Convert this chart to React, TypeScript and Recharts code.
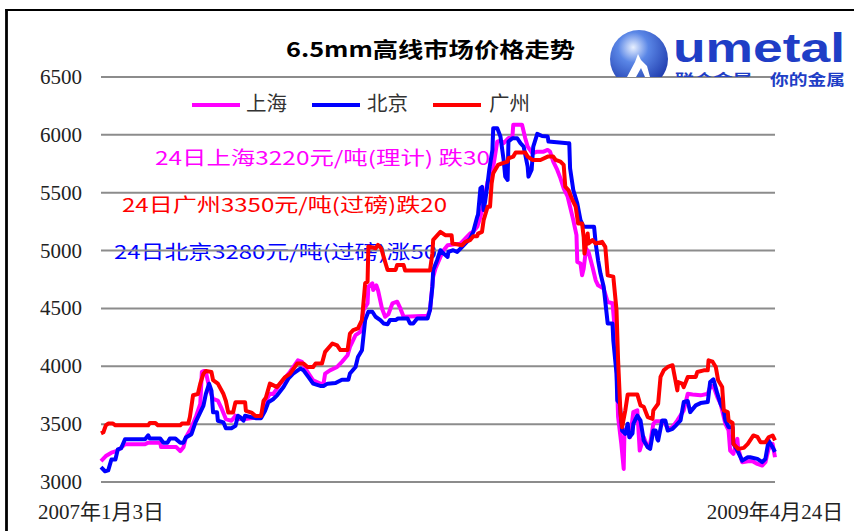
import React from 'react';
import { LineChart, Line, XAxis, YAxis, CartesianGrid } from 'recharts';

// x values: days since 2007-01-03
const seriesNames = ['上海', '北京', '广州'];
const seriesColors = ['#ff00ff', '#0000ff', '#ff0000'];
const yTicks = [3000, 3500, 4000, 4500, 5000, 5500, 6000, 6500];
const xTickDays = [0, 842];
const xTickLabels = ['2007年1月3日', '2009年4月24日'];
const titleText = '6.5mm高线市场价格走势';
const notes = ['24日上海3220元/吨(理计) 跌30', '24日广州3350元/吨(过磅)跌20', '24日北京3280元/吨(过磅)涨50'];

const shanghai: [number, number][] = [
  [0,3180],[6,3224],[13,3253],[19,3267],[24,3290],[30,3326],[55,3326],[59,3340],[74,3340],[75,3302],[94,3302],[99,3267],[103,3300],[106,3384],[113,3471],[119,3573],[124,3674],[126,3951],[129,3960],[131,3951],[136,3790],[140,3718],[146,3703],[150,3645],[156,3544],[163,3529],[168,3573],[171,3544],[180,3544],[193,3558],[200,3573],[206,3703],[211,3762],[215,3760],[224,3850],[236,3951],[246,4052],[251,4038],[258,3951],[265,3879],[274,3850],[278,3850],[280,3937],[286,3965],[295,3994],[301,4038],[308,4095],[311,4168],[318,4269],[324,4298],[328,4486],[333,4543],[334,4688],[339,4717],[340,4659],[344,4700],[346,4659],[351,4500],[355,4428],[359,4450],[364,4543],[370,4558],[374,4500],[378,4428],[408,4436],[411,4486],[415,4775],[418,4847],[424,4945],[428,5003],[433,5046],[449,5060],[455,5104],[461,5147],[465,5162],[470,5205],[474,5292],[478,5408],[483,5595],[486,5624],[490,5725],[495,5942],[499,5950],[503,5928],[509,5971],[514,5985],[515,6087],[526,6087],[530,5971],[533,5899],[539,5841],[545,5855],[553,5855],[558,5870],[561,5855],[565,5769],[570,5697],[574,5624],[578,5538],[583,5465],[586,5379],[590,5263],[594,5133],[595,4902],[599,4888],[601,4786],[603,4844],[606,5017],[609,4990],[614,4858],[618,4743],[621,4700],[628,4671],[633,4555],[639,4545],[643,4230],[646,3561],[650,3330],[653,3113],[654,3445],[658,3470],[661,3387],[665,3604],[670,3619],[673,3272],[678,3387],[683,3300],[686,3330],[690,3503],[693,3526],[701,3526],[705,3503],[708,3460],[714,3475],[720,3532],[728,3619],[733,3763],[739,3757],[749,3749],[758,3763],[761,3821],[765,3830],[770,3734],[774,3676],[778,3561],[780,3503],[784,3445],[786,3272],[790,3243],[795,3373],[796,3290],[801,3171],[808,3180],[814,3180],[820,3156],[826,3142],[830,3171],[834,3286],[839,3330],[842,3214]
];

const beijing: [number, number][] = [
  [0,3128],[5,3093],[9,3100],[13,3195],[18,3195],[21,3282],[25,3290],[30,3369],[55,3369],[59,3404],[61,3375],[74,3375],[78,3340],[83,3340],[86,3375],[93,3375],[99,3340],[103,3340],[106,3384],[113,3413],[118,3515],[121,3558],[128,3660],[131,3762],[135,3849],[138,3790],[140,3602],[145,3602],[146,3529],[153,3515],[156,3465],[163,3465],[168,3485],[171,3573],[174,3560],[178,3530],[180,3573],[193,3552],[200,3552],[205,3616],[209,3689],[215,3715],[220,3749],[228,3821],[234,3893],[240,3937],[249,3980],[253,3965],[259,3908],[265,3850],[274,3830],[278,3830],[283,3850],[293,3855],[301,3884],[309,3884],[311,3937],[318,3994],[321,4081],[326,4139],[330,4399],[334,4471],[339,4471],[343,4428],[349,4399],[353,4370],[358,4364],[361,4399],[368,4399],[371,4413],[383,4413],[386,4370],[390,4370],[395,4413],[408,4413],[411,4486],[414,4688],[415,4832],[420,4919],[424,5003],[428,4974],[433,4945],[434,4988],[440,5003],[445,4988],[449,5017],[455,5061],[461,5104],[465,5162],[470,5292],[471,5310],[474,5538],[476,5550],[478,5350],[480,5430],[483,5581],[485,5697],[489,5870],[490,6058],[495,6058],[499,5986],[503,5783],[505,5639],[508,5610],[509,5942],[514,5971],[520,5971],[524,5928],[528,5899],[533,5725],[534,5639],[538,5700],[540,5899],[545,6009],[551,5990],[558,5986],[559,5942],[583,5928],[585,5928],[586,5711],[590,5523],[595,5408],[599,5263],[603,5205],[616,5205],[618,5061],[621,4916],[624,4801],[628,4688],[633,4370],[639,4370],[640,4225],[644,3937],[645,3705],[648,3680],[651,3445],[655,3416],[658,3503],[660,3387],[664,3420],[665,3503],[670,3575],[674,3530],[678,3358],[683,3301],[686,3286],[690,3445],[693,3445],[695,3370],[696,3358],[701,3532],[705,3532],[708,3445],[714,3460],[718,3488],[724,3532],[728,3691],[733,3700],[736,3604],[743,3662],[749,3682],[758,3691],[761,3864],[765,3887],[770,3763],[774,3676],[778,3619],[780,3532],[784,3474],[789,3474],[790,3330],[795,3272],[801,3185],[808,3214],[811,3214],[820,3200],[826,3171],[830,3200],[834,3358],[839,3301],[842,3260]
];

const guangzhou: [number, number][] = [
  [0,3420],[3,3430],[6,3490],[9,3505],[15,3505],[18,3490],[59,3490],[61,3510],[68,3510],[71,3490],[99,3490],[101,3505],[109,3505],[111,3560],[115,3750],[121,3760],[124,3850],[128,3936],[131,3960],[138,3950],[140,3880],[146,3850],[153,3760],[156,3700],[159,3600],[165,3600],[168,3690],[180,3690],[181,3615],[188,3600],[193,3570],[200,3570],[203,3700],[206,3730],[211,3850],[220,3820],[230,3907],[236,3935],[245,4023],[253,4023],[258,3994],[265,3994],[268,4023],[276,4023],[280,4125],[289,4197],[295,4180],[299,4140],[308,4140],[311,4283],[315,4312],[321,4327],[326,4400],[330,4717],[333,4730],[334,5035],[343,5020],[346,5050],[350,5020],[353,4948],[358,4832],[368,4832],[370,4876],[378,4876],[380,4827],[411,4827],[414,4977],[415,5092],[424,5162],[430,5133],[438,5133],[439,5061],[451,5046],[455,5075],[461,5090],[465,5124],[470,5124],[471,5147],[476,5162],[478,5263],[483,5379],[486,5379],[488,5581],[490,5668],[496,5740],[501,5754],[508,5769],[509,5798],[515,5812],[518,5847],[530,5847],[533,5812],[539,5783],[549,5783],[558,5812],[565,5812],[568,5783],[574,5769],[578,5740],[580,5552],[584,5523],[589,5436],[593,5379],[596,5234],[601,5234],[603,5118],[604,4974],[608,5147],[609,5061],[614,5090],[618,5061],[626,5075],[630,5032],[633,4786],[640,4775],[644,4486],[646,4052],[649,3590],[651,3474],[655,3619],[658,3757],[670,3757],[674,3662],[678,3650],[683,3561],[689,3546],[690,3619],[696,3676],[699,3908],[703,3965],[708,3994],[714,4009],[716,3936],[720,3792],[721,3864],[726,3850],[728,3820],[733,3908],[743,3908],[745,3951],[753,3965],[758,3965],[759,4052],[764,4040],[768,3994],[771,3879],[776,3821],[778,3619],[783,3605],[784,3532],[789,3510],[790,3330],[796,3286],[803,3295],[808,3330],[815,3402],[820,3390],[824,3344],[830,3344],[834,3387],[839,3402],[842,3360]
];

const allSeries = [shanghai, beijing, guangzhou];

const serifStyle = { fontFamily: "'Liberation Serif', 'DejaVu Serif', 'Noto Sans CJK SC', serif" };
const cjkStyle = { fontFamily: "'Noto Sans CJK SC', sans-serif" };

const YTick = (props: any) => {
  const { x, y, payload } = props;
  return (
    <text x={x} y={y} textAnchor="end" dominantBaseline="central" style={serifStyle} fontSize={21} fill="#222">
      {payload.value}
    </text>
  );
};

const XTick = (props: any) => {
  const { x, y, payload } = props;
  const idx = xTickDays.indexOf(payload.value);
  return (
    <text x={x} y={y + 22} textAnchor="middle" dominantBaseline="central" style={serifStyle} fontSize={21} fill="#222">
      {xTickLabels[idx]}
    </text>
  );
};

export default function App() {
  const legendItems = [
    { lx: 192, tx: 246 },
    { lx: 312, tx: 367 },
    { lx: 433, tx: 489 },
  ];
  const noteLayout = [
    { x: 155, y: 156, w: 335, c: seriesColors[0] },
    { x: 122, y: 203, w: 325, c: seriesColors[2] },
    { x: 114, y: 250, w: 323, c: seriesColors[1] },
  ];
  return (
    <div style={{ position: 'absolute', left: 0, top: 0, width: 854, height: 531, background: '#fff', overflow: 'hidden' }}>
      <svg width={854} height={531} style={{ position: 'absolute', left: 0, top: 0 }}>
        <rect x={0} y={0} width={854} height={531} fill="#fff" />
        <line x1={5.5} y1={10} x2={854} y2={10} stroke="#000" strokeWidth={2.2} />
        <line x1={6.5} y1={9} x2={6.5} y2={531} stroke="#000" strokeWidth={2.8} />
        <text x={286} y={47.5} dominantBaseline="central" style={cjkStyle} fontWeight="bold" fontSize={21}
          textLength={289} lengthAdjust="spacingAndGlyphs" fill="#000">{titleText}</text>
        {legendItems.map((it, i) => (
          <g key={i}>
            <line x1={it.lx} y1={105} x2={it.lx + 48} y2={105} stroke={seriesColors[i]} strokeWidth={4} />
            <text x={it.tx} y={104} dominantBaseline="central" style={serifStyle} fontSize={20}
              textLength={41} lengthAdjust="spacingAndGlyphs" fill="#333">{seriesNames[i]}</text>
          </g>
        ))}
        {noteLayout.map((n, i) => (
          <text key={i} x={n.x} y={n.y} dominantBaseline="central" style={cjkStyle} fontSize={19}
            textLength={n.w} lengthAdjust="spacingAndGlyphs" fill={n.c}>{notes[i]}</text>
        ))}
      </svg>
      <div style={{ position: 'absolute', left: 0, top: 0 }}>
        <LineChart width={854} height={531} margin={{ top: 77, right: 79, bottom: 19, left: 21 }}>
          <CartesianGrid vertical={false} stroke="#8c8c8c" strokeWidth={2} />
          <XAxis dataKey="d" type="number" domain={[0, 842]} ticks={xTickDays} interval={0}
            axisLine={false} tickLine={false} height={30} tick={<XTick />} allowDuplicatedCategory={false} />
          <YAxis type="number" domain={[3000, 6500]} ticks={yTicks} interval={0} width={80}
            axisLine={false} tickLine={false} tickMargin={13} tick={<YTick />} />
          {allSeries.map((s, i) => (
            <Line key={i} data={s.map(([d, v]) => ({ d, v }))} dataKey="v" name={seriesNames[i]}
              type="linear" stroke={seriesColors[i]} strokeWidth={4} dot={false} activeDot={false}
              strokeLinejoin="round" isAnimationActive={false} />
          ))}
        </LineChart>
      </div>
      <svg width={854} height={531} style={{ position: 'absolute', left: 0, top: 0, pointerEvents: 'none' }}>
        <defs>
          <radialGradient id="globe" cx="40%" cy="30%" r="75%">
            <stop offset="0%" stopColor="#e8f0ff" />
            <stop offset="35%" stopColor="#5a86e6" />
            <stop offset="100%" stopColor="#1a35a8" />
          </radialGradient>
          <clipPath id="globeClip">
            <rect x={600} y={20} width={80} height={57} />
          </clipPath>
          <clipPath id="subClip">
            <rect x={670} y={60} width={90} height={17} />
          </clipPath>
        </defs>
        <g clipPath="url(#globeClip)">
          <circle cx={639} cy={59} r={29} fill="url(#globe)" />
          <path d="M627 77 L635 62 L638 54 L641 60 L647 66 L650 77 L645 77 L641 68 L636 77 Z" fill="#fff" />
        </g>
        <text x={673} y={62} style={{ fontFamily: "'Liberation Sans', sans-serif" }} fontWeight="bold" fontSize={40}
          textLength={172} lengthAdjust="spacingAndGlyphs" fill="#1f3ec6">umetal</text>
        <text x={675} y={85} style={cjkStyle} fontWeight="bold" fontSize={15} clipPath="url(#subClip)"
          textLength={77} lengthAdjust="spacingAndGlyphs" fill="#1f3ec6">联合金属</text>
        <text x={770} y={85} style={cjkStyle} fontWeight="bold" fontSize={15}
          textLength={75} lengthAdjust="spacingAndGlyphs" fill="#1f3ec6">你的金属</text>
      </svg>
    </div>
  );
}
